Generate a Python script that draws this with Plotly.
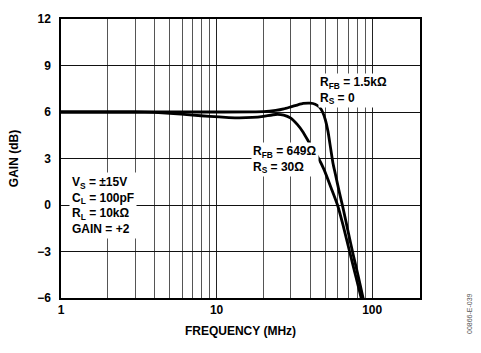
import plotly.graph_objects as go
import math

# Data (frequency in MHz, gain in dB)
freq_649 = [1, 2, 3, 4, 5, 7, 9, 12, 14, 17, 20, 24, 27, 30, 33, 36, 40, 45, 49, 54.5, 59.9, 65, 71.6, 78, 85, 90]
gain_649 = [6.0, 6.0, 6.0, 5.97, 5.92, 5.8, 5.72, 5.64, 5.62, 5.65, 5.72, 5.84, 5.8, 5.6, 5.2, 4.7, 3.9, 3.05, 2.3, 1.1, 0.0, -1.3, -3.0, -4.5, -6.0, -7.0]

freq_1k5 = [1, 5, 10, 20, 24, 27, 30, 33, 36, 40, 43, 46, 48, 50, 52, 54, 56, 58, 61.6, 65, 70, 75.5, 81, 87, 92]
gain_1k5 = [6.0, 6.0, 6.0, 6.02, 6.1, 6.2, 6.33, 6.45, 6.55, 6.57, 6.5, 6.3, 6.0, 5.5, 4.75, 3.7, 2.7, 2.0, 0.8, -0.2, -1.7, -3.2, -4.5, -5.9, -7.0]

y_ticks = [-6, -3, 0, 3, 6, 9, 12]
x_ticks = [1, 10, 100]
x_tick_labels = ["1", "10", "100"]
x_minor = [2, 3, 4, 5, 6, 7, 8, 9, 20, 30, 40, 50, 60, 70, 80, 90]

FONT = "Liberation Sans"
FS = 12

fig = go.Figure()
for fx, gy in [(freq_649, gain_649), (freq_1k5, gain_1k5)]:
    fig.add_trace(go.Scatter(x=fx, y=gy, mode="lines",
                             line=dict(color="black", width=2.8, shape="spline", smoothing=0.5),
                             showlegend=False, hoverinfo="skip"))

fig.update_layout(
    width=481, height=353,
    margin=dict(l=61, r=61, t=13, b=55),
    paper_bgcolor="white", plot_bgcolor="white",
    font=dict(family=FONT, size=FS, color="black"),
    xaxis=dict(
        type="log", range=[0, math.log10(203)],
        tickvals=x_ticks, ticktext=x_tick_labels, ticks="",
        showgrid=True, gridcolor="#222", gridwidth=1,
        minor=dict(tickvals=x_minor, showgrid=True, gridcolor="#555", gridwidth=1, ticks=""),
        showline=True, linecolor="black", linewidth=1.5, mirror=True,
        tickfont=dict(family=FONT, size=FS, weight="bold"),
        title=dict(text="FREQUENCY (MHz)", font=dict(family=FONT, size=FS, weight="bold"), standoff=10),
        zeroline=False,
    ),
    yaxis=dict(
        range=[-6, 12], tickvals=y_ticks, ticks="",
        showgrid=True, gridcolor="#111", gridwidth=1,
        showline=True, linecolor="black", linewidth=1.5, mirror=True,
        tickfont=dict(family=FONT, size=FS, weight="bold"),
        title=dict(text="GAIN (dB)", font=dict(family=FONT, size=FS, weight="bold"), standoff=16),
        zeroline=False, ticklabelstandoff=6,
    ),
)

ann_font = dict(family=FONT, size=FS, color="black", weight="bold")
fig.add_annotation(xref="paper", yref="paper", x=0.716, y=0.744, xanchor="left", yanchor="middle",
                   text="R<sub>FB</sub> = 1.5kΩ<br>R<sub>S</sub> = 0", showarrow=False, align="left",
                   bgcolor="white", borderpad=1, font=ann_font)
fig.add_annotation(xref="paper", yref="paper", x=0.53, y=0.498, xanchor="left", yanchor="middle",
                   text="R<sub>FB</sub> = 649Ω<br>R<sub>S</sub> = 30Ω", showarrow=False, align="left",
                   bgcolor="white", borderpad=1, font=ann_font)
fig.add_annotation(xref="paper", yref="paper", x=0.022, y=0.33, xanchor="left", yanchor="middle",
                   text="V<sub>S</sub> = ±15V<br>C<sub>L</sub> = 100pF<br>R<sub>L</sub> = 10kΩ<br>GAIN = +2",
                   showarrow=False, align="left", bgcolor="white", borderpad=2, font=ann_font)
fig.add_annotation(xref="paper", yref="paper", x=1.0, y=0.0, xanchor="center", yanchor="middle",
                   xshift=49, yshift=-16,
                   text="00866-E-039", textangle=-90, showarrow=False,
                   font=dict(family=FONT, size=7, color="#555"))

fig.write_html("out.html")
